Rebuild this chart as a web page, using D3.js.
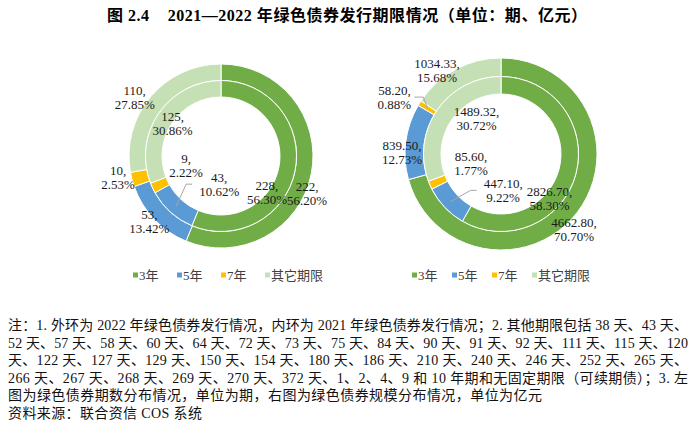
<!DOCTYPE html>
<html>
<head>
<meta charset="utf-8">
<script src="https://cdn.jsdelivr.net/npm/d3@7"></script>
<style>
  body { margin: 0; background: #fff; }
  text { font-family: "Liberation Serif", "Times New Roman", "Noto Sans CJK SC", serif; }
</style>
</head>
<body>
<div id="chart"></div>
<script>
// Categories and colours
const categories = ["3年", "5年", "7年", "其它期限"];
const colors = ["#70AD47", "#5B9BD5", "#FFC000", "#C5E0B4"];

// Left chart: number of issues (期)
const count2022 = [222, 53, 10, 110];   // outer ring
const count2021 = [228, 43, 9, 125];    // inner ring

// Right chart: issue size (亿元)
const size2022 = [4662.80, 839.50, 58.20, 1034.33]; // outer ring
const size2021 = [2826.70, 447.10, 85.60, 1489.32]; // inner ring

const titleText = "图 2.4    2021—2022 年绿色债券发行期限情况（单位：期、亿元）";
const noteLines = [
    "注：1. 外环为 2022 年绿色债券发行情况，内环为 2021 年绿色债券发行情况；2. 其他期限包括 38 天、43 天、",
    "52 天、57 天、58 天、60 天、64 天、72 天、73 天、75 天、84 天、90 天、91 天、92 天、111 天、115 天、120",
    "天、122 天、127 天、129 天、150 天、154 天、180 天、186 天、210 天、240 天、246 天、252 天、265 天、",
    "266 天、267 天、268 天、269 天、270 天、372 天、1、2、4、9 和 10 年期和无固定期限（可续期债）；3. 左",
    "图为绿色债券期数分布情况，单位为期，右图为绿色债券规模分布情况，单位为亿元",
    "资料来源：联合资信 COS 系统"
];

const width = 700, height = 428;

const svg = d3.select("#chart")
    .append("svg")
    .attr("width", width)
    .attr("height", height);

svg.append("rect").attr("width", width).attr("height", height).attr("fill", "#fff");

// Title (keep the wide gap after the figure number)
svg.append("text")
    .attr("x", 107)
    .attr("y", 21)
    .attr("font-size", 16)
    .attr("font-weight", "bold")
    .attr("fill", "#000")
    .style("white-space", "pre")
    .attr("textLength", 480)
    .attr("lengthAdjust", "spacing")
    .text(titleText);

// Label nudges relative to each slice centroid (Excel labels were dragged by hand)
const charts = [
    {
        cx: 221, cy: 156, r: [59, 75.5, 92],
        outer: count2022, inner: count2021,
        fmt: d3.format("d"),
        outerNudge: [[4, 21], [-11, 8], [-22, 0], [-22, -5]],
        innerNudge: [[-20, 23], [43, -22], [26, -19.5], [7, 5.6]],
        outerLeader: [], innerLeader: [1],
        legendX: 133, legendGap: 18.5
    },
    {
        cx: 501, cy: 154, r: [60, 77.5, 96],
        outer: size2022, inner: size2021,
        fmt: d3.format(".2f"),
        outerNudge: [[4, 23], [-13, 10], [-33, -11], [-23, -7]],
        innerNudge: [[-18, 27], [52, -11], [33, -18], [32, 4]],
        outerLeader: [2], innerLeader: [1],
        legendX: 412, legendGap: 14.5
    }
];

const pie = d3.pie().sort(null).value(d => d);
const pct = d3.format(".2%");

charts.forEach(c => {
    const g = svg.append("g").attr("transform", `translate(${c.cx},${c.cy})`);

    const rings = [
        { values: c.outer, arc: d3.arc().innerRadius(c.r[1]).outerRadius(c.r[2]), nudge: c.outerNudge, leader: c.outerLeader },
        { values: c.inner, arc: d3.arc().innerRadius(c.r[0]).outerRadius(c.r[1]), nudge: c.innerNudge, leader: c.innerLeader }
    ];

    // slices
    rings.forEach(ring => {
        g.append("g").selectAll("path")
            .data(pie(ring.values))
            .join("path")
            .attr("d", ring.arc)
            .attr("fill", (d, i) => colors[i])
            .attr("stroke", "#fff")
            .attr("stroke-width", 1);
    });

    // labels and leader lines
    rings.forEach(ring => {
        const total = d3.sum(ring.values);
        pie(ring.values).forEach((d, i) => {
            const [x0, y0] = ring.arc.centroid(d);
            const lx = x0 + ring.nudge[i][0];
            const ly = y0 + ring.nudge[i][1];

            const t = g.append("text")
                .attr("text-anchor", "middle")
                .attr("font-size", 13)
                .attr("fill", "#1a1a1a");
            t.append("tspan").attr("x", lx).attr("y", ly - 7 + 4.5).text(c.fmt(d.value) + ",");
            t.append("tspan").attr("x", lx).attr("y", ly + 7 + 4.5).text(pct(d.value / total));

            if (ring.leader.includes(i)) {
                const bb = t.node().getBBox();
                const leftSide = lx > x0;
                const sx = leftSide ? bb.x - 7 : bb.x + bb.width + 3;
                const ex = leftSide ? sx - 6 : sx + 9;
                g.append("path")
                    .attr("d", `M${sx},${ly} L${ex},${ly} L${x0},${y0}`)
                    .attr("fill", "none")
                    .attr("stroke", "#a6a6a6")
                    .attr("stroke-width", 1);
            }
        });
    });

    // legend
    const lg = svg.append("g").attr("transform", `translate(${c.legendX},275)`);
    let x = 0;
    categories.forEach((name, i) => {
        lg.append("rect")
            .attr("x", x).attr("y", -2.5)
            .attr("width", 5).attr("height", 5)
            .attr("fill", colors[i]);
        const t = lg.append("text")
            .attr("x", x + 6)
            .attr("y", 4.5)
            .attr("font-size", 13)
            .attr("fill", "#404040")
            .text(name);
        x += 6 + t.node().getComputedTextLength() + c.legendGap;
    });
});

// Notes under the charts (lines 1-4 are justified in the source)
const noteWidths = [680, 680, 680, 680, 534, 194];
noteLines.forEach((line, i) => {
    svg.append("text")
        .attr("x", 8)
        .attr("y", 330 + i * 17.6)
        .attr("font-size", 14)
        .attr("fill", "#111")
        .attr("textLength", noteWidths[i])
        .attr("lengthAdjust", "spacing")
        .text(line);
});
</script>
</body>
</html>
